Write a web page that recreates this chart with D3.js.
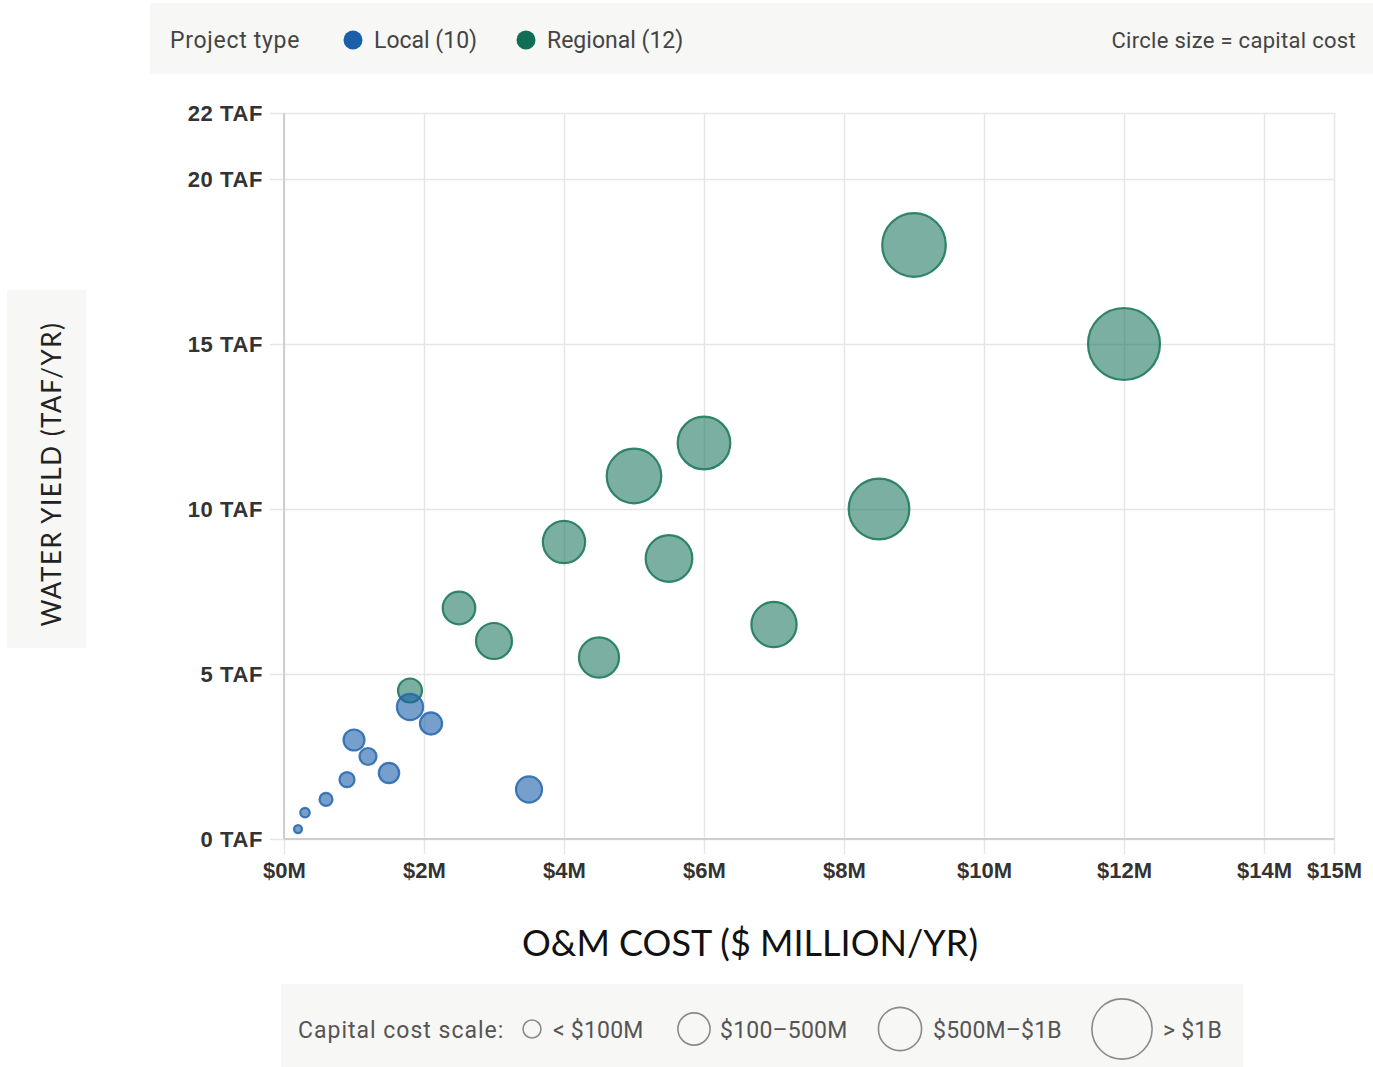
<!DOCTYPE html>
<html>
<head>
<meta charset="utf-8">
<script src="https://cdn.jsdelivr.net/npm/d3@7"></script>
<style>
  html, body { margin: 0; padding: 0; background: #ffffff; }
  svg { display: block; }
</style>
</head>
<body>
<svg id="chart" width="1373" height="1067"></svg>
<script>
// ---------- DATA ----------
const localOm      = [0.2, 0.3, 0.6, 0.9, 1.0, 1.2, 1.5, 1.8, 2.1, 3.5];
const localYield   = [0.3, 0.8, 1.2, 1.8, 3.0, 2.5, 2.0, 4.0, 3.5, 1.5];
const localCapital = [25, 35, 65, 88, 170, 112, 160, 265, 190, 262];

const regionalOm      = [1.8, 2.5, 3.0, 4.0, 4.5, 5.0, 5.5, 6.0, 7.0, 8.5, 9.0, 12.0];
const regionalYield   = [4.5, 7.0, 6.0, 9.0, 5.5, 11.0, 8.5, 12.0, 6.5, 10.0, 18.0, 15.0];
const regionalCapital = [222, 410, 500, 690, 620, 1150, 840, 1070, 790, 1420, 1560, 2000];

const xTicks = [0, 2, 4, 6, 8, 10, 12, 14, 15];
const yTicks = [0, 5, 10, 15, 20, 22];

const legendTypes  = ["Local (10)", "Regional (12)"];
const legendColors = ["#1b5fa8", "#0f6e53"];

const sizeLegendLabels = ["< $100M", "$100–500M", "$500M–$1B", "> $1B"];
const sizeLegendValues = [125, 400, 720, 1400];

// ---------- SETUP ----------
const svg = d3.select("#chart");
const FONT_UI = "Roboto, 'Open Sans', sans-serif";
const FONT_AX = "'Liberation Sans', Arial, sans-serif";
const FONT_TITLE = "Lato, 'Open Sans', sans-serif";

const x = d3.scaleLinear().domain([0, 15]).range([284, 1334]);
const y = d3.scaleLinear().domain([0, 22]).range([839, 113]);
const r = d3.scaleSqrt().domain([0, 2000]).range([0, 36]);

// ---------- TOP LEGEND ----------
svg.append("rect").attr("x", 150).attr("y", 3).attr("width", 1223).attr("height", 71).attr("fill", "#f7f7f5");
svg.append("text").attr("x", 170).attr("y", 48).attr("font-family", FONT_UI).attr("font-size", 23)
  .attr("letter-spacing", 0.7).attr("fill", "#444").text("Project type");
const legPos = [{cx: 353, tx: 374}, {cx: 526, tx: 547}];
legendTypes.forEach((t, i) => {
  svg.append("circle").attr("cx", legPos[i].cx).attr("cy", 40).attr("r", 9.5).attr("fill", legendColors[i]);
  svg.append("text").attr("x", legPos[i].tx).attr("y", 48).attr("font-family", FONT_UI).attr("font-size", 23)
    .attr("fill", "#444").text(t);
});
svg.append("text").attr("x", 1356).attr("y", 48).attr("text-anchor", "end").attr("font-family", FONT_UI)
  .attr("font-size", 22).attr("letter-spacing", 0.3).attr("fill", "#444").text("Circle size = capital cost");

// ---------- Y TITLE ----------
svg.append("rect").attr("x", 7).attr("y", 290).attr("width", 79).attr("height", 358).attr("fill", "#f7f7f5");
svg.append("text").attr("transform", "translate(61,474) rotate(-90)").attr("text-anchor", "middle")
  .attr("font-family", FONT_TITLE).attr("font-size", 26).attr("fill", "#222").attr("letter-spacing", 1.5)
  .text("WATER YIELD (TAF/YR)");

// ---------- GRID / AXES ----------
const gx = svg.append("g").attr("transform", "translate(0,839)")
  .call(d3.axisBottom(x).tickValues(xTicks).tickFormat(d => `$${d}M`).tickSize(-(839 - 113)));
gx.select(".domain").remove();
gx.selectAll(".tick line").attr("y1", 15).attr("stroke", "#e6e6e6").attr("stroke-width", 1.5);
gx.selectAll(".tick text").attr("y", 23).attr("dy", "0.71em").attr("font-family", FONT_AX)
  .attr("font-weight", "bold").attr("font-size", 22).attr("fill", "#333");

const gy = svg.append("g").attr("transform", "translate(284,0)")
  .call(d3.axisLeft(y).tickValues(yTicks).tickFormat(d => `${d} TAF`).tickSize(-(1334 - 284)));
gy.select(".domain").remove();
gy.selectAll(".tick line").attr("x1", -14).attr("stroke", "#e6e6e6").attr("stroke-width", 1.5);
gy.selectAll(".tick text").attr("x", -21).attr("dy", "0.34em").attr("font-family", FONT_AX)
  .attr("font-weight", "bold").attr("font-size", 22).attr("fill", "#333").attr("letter-spacing", 0.6);

svg.append("line").attr("x1", x(0)).attr("x2", x(0)).attr("y1", y(22)).attr("y2", y(0))
  .attr("stroke", "#cfcfcf").attr("stroke-width", 2);
svg.append("line").attr("x1", x(0)).attr("x2", x(15)).attr("y1", y(0)).attr("y2", y(0))
  .attr("stroke", "#cfcfcf").attr("stroke-width", 2);

// ---------- BUBBLES ----------
const regional = regionalOm.map((d, i) => ({om: d, yld: regionalYield[i], cap: regionalCapital[i]}));
const local = localOm.map((d, i) => ({om: d, yld: localYield[i], cap: localCapital[i]}));

svg.append("g").selectAll("circle").data(regional).join("circle")
  .attr("cx", d => x(d.om)).attr("cy", d => y(d.yld)).attr("r", d => r(d.cap))
  .attr("fill", "#0f6e53").attr("fill-opacity", 0.55)
  .attr("stroke", "#1f7a5c").attr("stroke-opacity", 0.9).attr("stroke-width", 2.2);

svg.append("g").selectAll("circle").data(local).join("circle")
  .attr("cx", d => x(d.om)).attr("cy", d => y(d.yld)).attr("r", d => r(d.cap))
  .attr("fill", "#1b5fa8").attr("fill-opacity", 0.6)
  .attr("stroke", "#2565ae").attr("stroke-opacity", 0.85).attr("stroke-width", 2.2);

// ---------- X TITLE ----------
svg.append("text").attr("x", 750).attr("y", 956).attr("text-anchor", "middle")
  .attr("font-family", FONT_TITLE).attr("font-size", 36).attr("fill", "#111")
  .text("O&M COST ($ MILLION/YR)");

// ---------- SIZE LEGEND ----------
svg.append("rect").attr("x", 281).attr("y", 984).attr("width", 962).attr("height", 83).attr("fill", "#f7f7f5");
svg.append("text").attr("x", 298).attr("y", 1038).attr("font-family", FONT_UI).attr("font-size", 23)
  .attr("letter-spacing", 1).attr("fill", "#555").text("Capital cost scale:");
const sizePos = [{cx: 532, tx: 553}, {cx: 694, tx: 720}, {cx: 900, tx: 933}, {cx: 1122, tx: 1163}];
sizeLegendValues.forEach((v, i) => {
  svg.append("circle").attr("cx", sizePos[i].cx).attr("cy", 1029).attr("r", r(v))
    .attr("fill", "none").attr("stroke", "#8a8a8a").attr("stroke-width", 1.6);
  svg.append("text").attr("x", sizePos[i].tx).attr("y", 1038).attr("font-family", FONT_UI)
    .attr("font-size", 23).attr("letter-spacing", 0.2).attr("fill", "#555").text(sizeLegendLabels[i]);
});
</script>
</body>
</html>
